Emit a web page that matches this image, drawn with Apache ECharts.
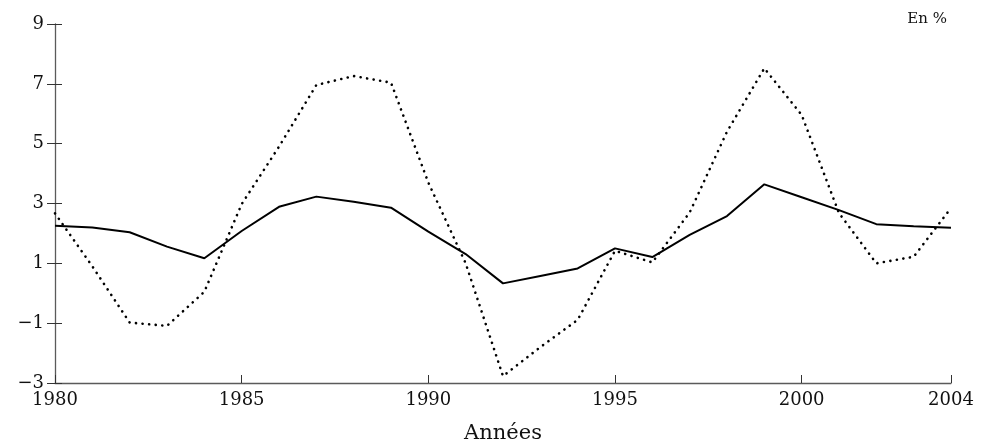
<!DOCTYPE html>
<html>
<head>
<meta charset="utf-8">
<script src="https://cdn.jsdelivr.net/npm/echarts@6/dist/echarts.min.js"></script>
<style>
  html, body { margin: 0; padding: 0; background: #fff; }
  #chart { width: 996px; height: 445px; }
</style>
</head>
<body>
<div id="chart"></div>
<script>
var years = [1980, 1981, 1982, 1983, 1984, 1985, 1986, 1987, 1988, 1989, 1990, 1991,
  1992, 1993, 1994, 1995, 1996, 1997, 1998, 1999, 2000, 2001, 2002, 2003, 2004];
var solidValues = [2.26, 2.20, 2.04, 1.56, 1.17, 2.08, 2.89, 3.23, 3.06, 2.86, 2.06, 1.31,
  0.33, 0.58, 0.83, 1.50, 1.21, 1.95, 2.58, 3.64, 3.21, 2.78, 2.31, 2.24, 2.19];
var dottedValues = [2.67, 0.90, -0.98, -1.09, 0.05, 2.98, 4.90, 6.96, 7.26, 7.04, 3.70, 1.00,
  -2.77, -1.80, -0.89, 1.42, 1.03, 2.70, 5.40, 7.52, 5.96, 2.68, 1.00, 1.22, 2.85];
var xTicks = [1980, 1985, 1990, 1995, 2000, 2004];
var yTicks = [-3, -1, 1, 3, 5, 7, 9];

function pairs(vals) {
  return years.map(function(y, i) { return [y, vals[i]]; });
}

var font = '"DejaVu Serif", serif';
var axisGrey = '#5a5a5a';

var chart = echarts.init(document.getElementById('chart'));
chart.setOption({
  animation: false,
  title: {
    text: 'En %', right: 44, top: 7,
    textStyle: { fontFamily: font, fontSize: 15, fontWeight: 'normal', color: '#111' }
  },
  grid: { left: 55, right: 45, top: 24, bottom: 62, outerBoundsMode: 'none', containLabel: false },
  xAxis: {
    type: 'value', min: 1980, max: 2004,
    name: 'Années', nameLocation: 'middle', nameGap: 40,
    nameTextStyle: { fontFamily: font, fontSize: 21, color: '#111' },
    axisLine: { onZero: false, lineStyle: { color: axisGrey, width: 1.3 } },
    axisTick: { inside: true, length: 8, customValues: xTicks, lineStyle: { color: '#333' } },
    axisLabel: {
      customValues: xTicks, margin: 8, fontFamily: font, fontSize: 18, color: '#111',
      formatter: function(v) { return String(v); }
    },
    splitLine: { show: false }
  },
  yAxis: [{
    type: 'value', min: -3, max: 9,
    axisLine: { show: true, lineStyle: { color: axisGrey, width: 1.3 } },
    axisTick: { show: true, length: 8, customValues: yTicks, lineStyle: { color: '#333' } },
    axisLabel: {
      customValues: yTicks, margin: 11, fontFamily: font, fontSize: 18, color: '#111',
      formatter: function(v) { return String(v).replace('-', '\u2212'); }
    },
    splitLine: { show: false }
  }, {
    type: 'value', min: -3, max: 9, position: 'left',
    axisLine: { show: false },
    axisTick: { show: true, inside: true, length: 7, customValues: yTicks, lineStyle: { color: '#333' } },
    axisLabel: { show: false },
    splitLine: { show: false }
  }],
  series: [{
    type: 'line', data: pairs(dottedValues), symbol: 'none', silent: true,
    lineStyle: { color: '#000', width: 2.6, type: [0.1, 6.5], cap: 'round' }
  }, {
    type: 'line', data: pairs(solidValues), symbol: 'none', silent: true,
    lineStyle: { color: '#000', width: 2 }
  }]
});
</script>
</body>
</html>
